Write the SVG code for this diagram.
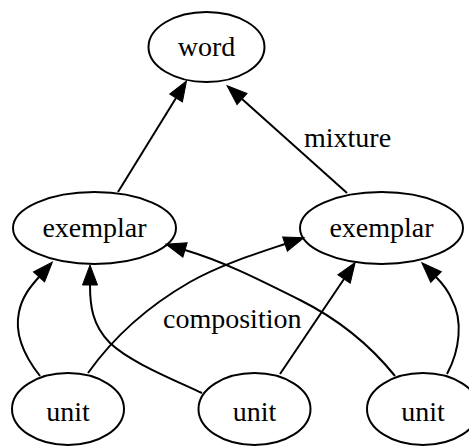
<svg xmlns="http://www.w3.org/2000/svg" width="469" height="446" viewBox="0 0 469 446">
  <style>
    .node ellipse { fill: none; stroke: #000; stroke-width: 2; }
    .node text, .label { font-family: "Liberation Serif", "Times New Roman", serif; font-size: 28px; fill: #000; }
    .node text { text-anchor: middle; }
    .edge { fill: none; stroke: #000; stroke-width: 2; marker-end: url(#arrow); }
  </style>
  <defs>
    <marker id="arrow" markerUnits="userSpaceOnUse" markerWidth="22" markerHeight="16" refX="0" refY="7.5" orient="auto" overflow="visible">
      <path d="M0,0 L20,7.5 L0,15 z" fill="#000" stroke="#000" stroke-width="1"/>
    </marker>
  </defs>

  <rect width="469" height="446" fill="#fff"/>

  <g id="connectors">
    <path class="edge" d="M118,192 L176,98"/>
    <path class="edge" d="M347,193 L242,99"/>
    <path class="edge" d="M40,376 C25,357 14,335 19,312 C22,297 30,287 39,277"/>
    <path class="edge" d="M88,373 C115,335 150,305 190,282 C220,265 255,254 285,244"/>
    <path class="edge" d="M202,393 C170,378 130,362 110,343 C92,325 90,305 90,285"/>
    <path class="edge" d="M280,374 L344,279"/>
    <path class="edge" d="M395,376 C370,345 340,320 300,300 C260,280 225,262 185,250"/>
    <path class="edge" d="M447,374 C460,350 463,320 452,300 C448,290 442,283 436,277"/>
    <text class="label" x="304" y="147">mixture</text>
    <text class="label" x="163" y="328">composition</text>
  </g>

  <g id="word" class="node">
    <ellipse cx="206.5" cy="47" rx="58" ry="35"/>
    <text x="206.5" y="56">word</text>
  </g>
  <g id="exemplar1" class="node">
    <ellipse cx="94.5" cy="228" rx="81.5" ry="36"/>
    <text x="94.5" y="237">exemplar</text>
  </g>
  <g id="exemplar2" class="node">
    <ellipse cx="381.5" cy="228" rx="81.5" ry="36"/>
    <text x="381.5" y="237">exemplar</text>
  </g>
  <g id="unit1" class="node">
    <ellipse cx="68" cy="409" rx="56" ry="36"/>
    <text x="68" y="421">unit</text>
  </g>
  <g id="unit2" class="node">
    <ellipse cx="254.5" cy="409" rx="56" ry="36"/>
    <text x="254.5" y="421">unit</text>
  </g>
  <g id="unit3" class="node">
    <ellipse cx="423" cy="409" rx="56" ry="36"/>
    <text x="423" y="421">unit</text>
  </g>
</svg>
